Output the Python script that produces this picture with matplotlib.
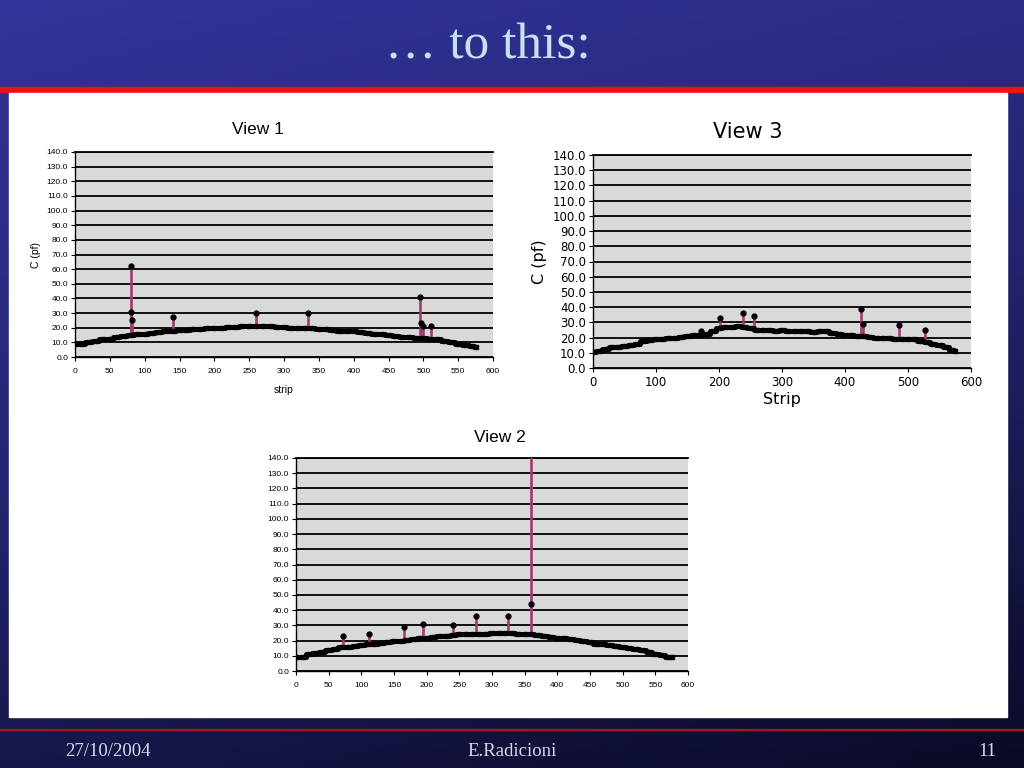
import numpy as np
import matplotlib
matplotlib.use("Agg")
import matplotlib.pyplot as plt
from matplotlib.patches import Rectangle
from matplotlib.colors import LinearSegmentedColormap

# ---------------- data ----------------
strip_base = [0, 10, 20, 30, 40, 50, 60, 70, 80, 90, 100, 110, 120, 130, 140, 150,
              160, 170, 180, 190, 200, 210, 220, 230, 240, 250, 260, 270, 280, 290,
              300, 310, 320, 330, 340, 350, 360, 370, 380, 390, 400, 410, 420, 430,
              440, 450, 460, 470, 480, 490, 500, 510, 520, 530, 540, 550, 560, 570, 575]

view1_base = [9, 9, 10.5, 11, 12, 12, 14, 14.5, 15, 15.5, 16, 16.5, 17, 17.5, 18, 18.5,
              18.5, 19, 19, 19.5, 20, 20, 20.5, 20.5, 21, 21, 21, 21, 21, 20.5,
              20.5, 20, 20, 20, 19.5, 19, 19, 18.5, 18, 17.5, 17.5, 17, 16.5, 16,
              15.5, 15, 14.5, 14, 13.5, 13, 13, 12.5, 12, 11, 10, 9, 8.5, 7.5, 7]
view1_spike_x = [80, 81, 82, 140, 260, 335, 495, 497, 500, 511]
view1_spike_top = [62, 31, 25, 27, 30, 30, 41, 23, 21, 21]
view1_spike_base = [15, 15, 15, 18, 21, 20, 13, 13, 13, 12]

view3_base = [10.5, 11.5, 12.5, 13.5, 14, 14.5, 15, 16, 18, 18.5, 19, 19, 19.5, 20, 20.5, 21,
              21.5, 22, 22.5, 24, 26, 27, 27, 27.5, 27, 26, 25, 25, 25, 24.5,
              25, 24.5, 24.5, 24.5, 24, 23.5, 24, 24, 23, 22.5, 22, 21.5, 21, 21,
              20.5, 20, 20, 19.5, 19, 19, 19, 19, 18, 17, 16, 15, 14, 12, 11]
view3_spike_x = [172, 202, 238, 256, 426, 428, 486, 527]
view3_spike_top = [24, 33, 36, 34, 39, 29, 28, 25]
view3_spike_base = [22, 26, 27, 25, 21, 21, 19, 18]

view2_base = [9, 9, 11, 12, 12.5, 13.5, 14.5, 15.5, 16, 16.5, 17, 17.5, 18, 18.5, 19, 19.5,
              20, 20.5, 21, 21.5, 22, 22.5, 23, 23, 23.5, 24, 24, 24, 24.5, 24.5,
              25, 25, 25, 25, 24.5, 24.5, 24, 23.5, 23, 22.5, 22, 21.5, 21, 20.5,
              19.5, 19, 18, 17.5, 17, 16.5, 16, 15, 14.5, 13.5, 12.5, 11.5, 10.5, 9, 9]
view2_spike_x = [72, 112, 165, 195, 240, 275, 325, 360]
view2_spike_marker = [23, 24, 29, 31, 30, 36, 36, 44]
view2_spike_top = [23, 24, 29, 31, 30, 36, 36, 150]
view2_spike_base = [16, 18, 20, 22, 23, 24, 25, 24]

yticks = list(range(0, 141, 10))

# ---------------- figure / slide ----------------
fig = plt.figure(figsize=(10.24, 7.68), dpi=100)

bg = fig.add_axes([0, 0, 1, 1])
bg.set_xlim(0, 1024)
bg.set_ylim(768, 0)
bg.axis("off")
cmap = LinearSegmentedColormap.from_list("slide", ["#32349a", "#23246e", "#0a0a26"])
xx, yy = np.meshgrid(np.linspace(0, 1, 200), np.linspace(0, 1, 150))
grad = 0.75 * yy + 0.25 * xx
bg.imshow(grad, cmap=cmap, extent=[0, 1024, 768, 0], aspect="auto", zorder=0)
bg.add_patch(Rectangle((0, 87), 1024, 4.5, color="#ee1111", zorder=1))
bg.add_patch(Rectangle((9, 93), 998, 624, color="white", zorder=1))
bg.add_patch(Rectangle((0, 728.5), 1024, 1.5, color="#a01818", zorder=1))
bg.text(488, 46, "\u2026 to this:", color="#c4e2f2", fontsize=37,
        family="Liberation Serif", ha="center", va="center", zorder=2)
bg.text(108, 752, "27/10/2004", color="#d8d8e8", fontsize=13.5,
        family="Liberation Serif", ha="center", va="center", zorder=2)
bg.text(512, 752, "E.Radicioni", color="#d8d8e8", fontsize=13.5,
        family="Liberation Serif", ha="center", va="center", zorder=2)
bg.text(987, 752, "11", color="#d8d8e8", fontsize=13.5,
        family="Liberation Serif", ha="center", va="center", zorder=2)

MAG = "#a33a74"


def make_panel(rect, base, sx, stop, sbase, smark, xstep, tfont, tsize, xpad,
               xlabel=None, ylabel=None, label_size=7, xlabelpad=4):
    ax = fig.add_axes(rect)
    ax.set_facecolor("#d9d9d9")
    ax.set_xlim(0, 600)
    ax.set_ylim(0, 140)
    ax.set_yticks(yticks)
    ax.set_yticklabels([f"{v:.1f}" for v in yticks], family=tfont, fontsize=tsize)
    xt = list(range(0, 601, xstep))
    ax.set_xticks(xt)
    ax.set_xticklabels([str(v) for v in xt], family=tfont, fontsize=tsize)
    ax.yaxis.grid(True, color="black", lw=1.3)
    ax.set_axisbelow(True)
    ax.spines["right"].set_visible(False)
    ax.spines["top"].set_linewidth(1.3)
    ax.spines["left"].set_linewidth(1.0)
    ax.spines["bottom"].set_linewidth(1.0)
    ax.tick_params(direction="out", length=3, width=0.8)
    ax.tick_params(axis="y", pad=2)
    ax.tick_params(axis="x", pad=xpad)
    ax.vlines(sx, sbase, stop, color=MAG, lw=1.9, zorder=3)
    ax.plot(strip_base, base, drawstyle="steps-mid", color="black", lw=3.6, zorder=4)
    ax.plot(strip_base, base, ls="none", marker="s", ms=3.5, color="black", zorder=4)
    ax.plot(sx, smark, ls="none", marker="o", ms=3.5, color="black", zorder=5)
    if xlabel:
        ax.set_xlabel(xlabel, family=tfont, fontsize=label_size, labelpad=xlabelpad)
    if ylabel:
        ax.set_ylabel(ylabel, family=tfont, fontsize=label_size, labelpad=4)
    return ax


make_panel([75 / 1024, 1 - 357 / 768, 418 / 1024, 205 / 768],
           view1_base, view1_spike_x, view1_spike_top, view1_spike_base, view1_spike_top,
           50, "Liberation Sans", 6, 5, xlabel="strip", ylabel="C (pf)", label_size=7.5,
           xlabelpad=7)
fig.text(258 / 1024, 1 - 130 / 768, "View 1", family="Liberation Sans", fontsize=12.5,
         ha="center", va="center")

make_panel([593 / 1024, 1 - 368 / 768, 378 / 1024, 213 / 768],
           view3_base, view3_spike_x, view3_spike_top, view3_spike_base, view3_spike_top,
           100, "DejaVu Sans", 8.5, 3, xlabel="Strip", ylabel="C (pf)", label_size=11.5,
           xlabelpad=2)
fig.text(748 / 1024, 1 - 132 / 768, "View 3", family="DejaVu Sans", fontsize=15,
         ha="center", va="center")

make_panel([296 / 1024, 1 - 671 / 768, 392 / 1024, 213 / 768],
           view2_base, view2_spike_x, view2_spike_top, view2_spike_base, view2_spike_marker,
           50, "Liberation Sans", 6, 5)
fig.text(500 / 1024, 1 - 438 / 768, "View 2", family="Liberation Sans", fontsize=12.5,
         ha="center", va="center")

fig.savefig("out.png", dpi=100)
